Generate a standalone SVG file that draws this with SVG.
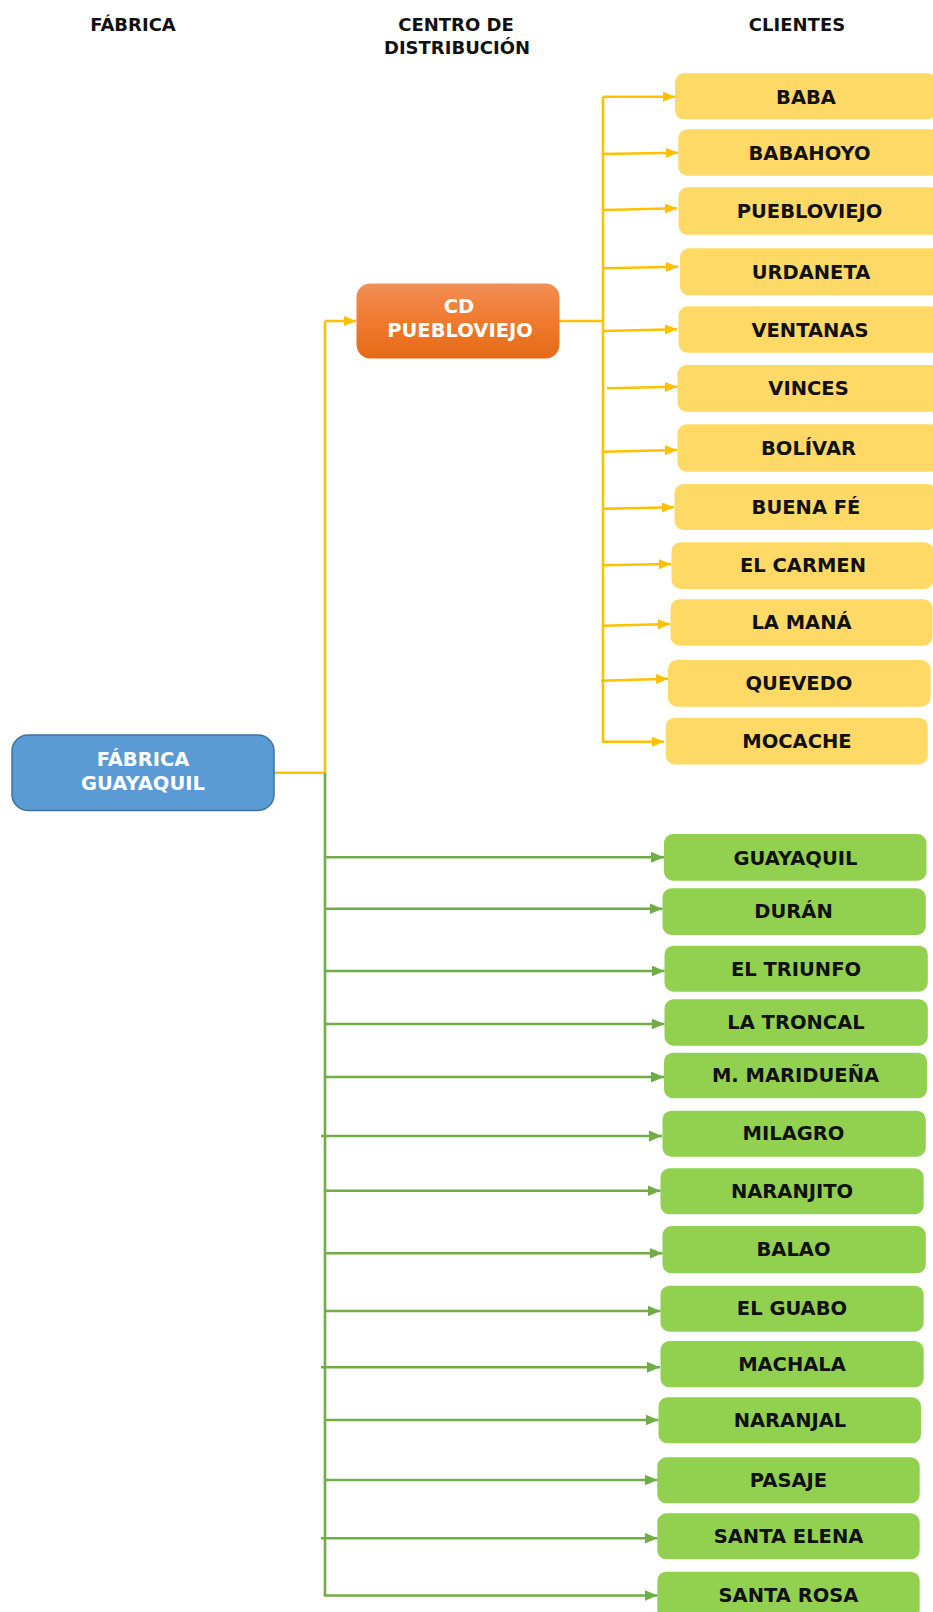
<svg xmlns="http://www.w3.org/2000/svg" width="933" height="1612" viewBox="0 0 933 1612">
  <defs>
    <linearGradient id="gradOrange" x1="0" y1="0" x2="0" y2="1">
      <stop offset="0" stop-color="#F28E56"/>
      <stop offset="0.5" stop-color="#F07A2E"/>
      <stop offset="1" stop-color="#E46A17"/>
    </linearGradient>
    <marker id="arrowY" viewBox="0 0 12 10" refX="12" refY="5" markerWidth="12" markerHeight="10" markerUnits="userSpaceOnUse" orient="auto">
      <path d="M0,0 L12,5 L0,10 z" fill="#FFC000"/>
    </marker>
    <marker id="arrowG" viewBox="0 0 13 11" refX="13" refY="5.5" markerWidth="13" markerHeight="11" markerUnits="userSpaceOnUse" orient="auto">
      <path d="M0,0 L13,5.5 L0,11 z" fill="#70AD47"/>
    </marker>
  </defs>
  <style>
    text { font-family: "DejaVu Sans", "Liberation Sans", sans-serif; font-weight: bold; font-size: 19.5px; text-anchor: middle; }
    .hdr { fill: #111111; font-size: 18px; }
    .lbl { fill: #111111; }
    .wht { fill: #FFFFFF; }
    .cli-y rect { fill: #FFD966; }
    .cli-g rect { fill: #92D050; }
    .ly { fill: none; stroke: #FFC000; stroke-width: 2.6; }
    .lg { fill: none; stroke: #70AD47; stroke-width: 2.6; }
    .ay { marker-end: url(#arrowY); }
    .ag { marker-end: url(#arrowG); }
  </style>

  <!-- column headings -->
  <g id="headers">
    <text class="hdr" x="133" y="30.5">FÁBRICA</text>
    <text class="hdr" x="456" y="30.5">CENTRO DE</text>
    <text class="hdr" x="457" y="53.5">DISTRIBUCIÓN</text>
    <text class="hdr" x="797" y="30.5">CLIENTES</text>
  </g>

  <!-- connectors -->
  <g id="connectors">
    <!-- factory to distribution centre -->
    <path class="ly" d="M274,772.7 H325 V321"/>
    <path class="ly ay" d="M325,321 H356"/>
    <!-- distribution centre to its clients -->
    <path class="ly" d="M559,321 H603"/>
    <path class="ly ay" d="M603,96.7 V741.7 H664"/>
    <path class="ly ay" d="M603,96.7 H675"/>
    <path class="ly ay" d="M603,154 L678,152.7"/>
    <path class="ly ay" d="M604,210 L677,208.3"/>
    <path class="ly ay" d="M604,268.3 L678,266.7"/>
    <path class="ly ay" d="M603,331 L677,329.3"/>
    <path class="ly ay" d="M607,388.3 L677,386.7"/>
    <path class="ly ay" d="M603,451.7 L677,450"/>
    <path class="ly ay" d="M603,508.7 L674,507.3"/>
    <path class="ly ay" d="M603,565.3 L671,564"/>
    <path class="ly ay" d="M603,625.7 L670,624"/>
    <path class="ly ay" d="M601,680.7 L668,678.7"/>

    <!-- factory direct deliveries -->
    <path class="lg" d="M325,773 V1595.5"/>
    <path class="lg ag" d="M325,857.3 H664"/>
    <path class="lg ag" d="M325,908.7 H662.5"/>
    <path class="lg ag" d="M325,971 H664.5"/>
    <path class="lg ag" d="M325,1024 H664.5"/>
    <path class="lg ag" d="M325,1077 H664"/>
    <path class="lg ag" d="M321,1136 H662"/>
    <path class="lg ag" d="M325,1190.7 H660.5"/>
    <path class="lg ag" d="M325,1253.3 H662.5"/>
    <path class="lg ag" d="M325,1311 H660.5"/>
    <path class="lg ag" d="M321,1367.3 H660"/>
    <path class="lg ag" d="M325,1420 H658.5"/>
    <path class="lg ag" d="M325,1480 H657.5"/>
    <path class="lg ag" d="M321,1538.3 H657.5"/>
    <path class="lg ag" d="M323.7,1595.5 H657.5"/>
  </g>

  <!-- factory -->
  <g id="fabrica-guayaquil">
    <rect x="12" y="735" width="262" height="75.5" rx="16" fill="#5B9BD5" stroke="#41719C" stroke-width="1.5"/>
    <text class="wht" x="143" y="765.5">FÁBRICA</text>
    <text class="wht" x="143" y="790">GUAYAQUIL</text>
  </g>

  <!-- distribution centre -->
  <g id="cd-puebloviejo">
    <rect x="356.5" y="283.5" width="203" height="75" rx="14" fill="url(#gradOrange)"/>
    <text class="wht" x="459" y="313">CD</text>
    <text class="wht" x="460" y="337">PUEBLOVIEJO</text>
  </g>

  <!-- clients served from the distribution centre -->
  <g id="cliente-baba" class="cli-y"><rect x="675" y="73.3" width="262" height="46" rx="9"/><text class="lbl" x="806" y="103.5">BABA</text></g>
  <g id="cliente-babahoyo" class="cli-y"><rect x="678.3" y="129.3" width="262" height="46.4" rx="9"/><text class="lbl" x="809.5" y="159.5">BABAHOYO</text></g>
  <g id="cliente-puebloviejo-c" class="cli-y"><rect x="678.5" y="187.3" width="262" height="47.5" rx="9"/><text class="lbl" x="809.5" y="217.8">PUEBLOVIEJO</text></g>
  <g id="cliente-urdaneta" class="cli-y"><rect x="680" y="248.3" width="262" height="47" rx="9"/><text class="lbl" x="811" y="278.5">URDANETA</text></g>
  <g id="cliente-ventanas" class="cli-y"><rect x="678.5" y="306.3" width="262" height="46.4" rx="9"/><text class="lbl" x="810" y="336.5">VENTANAS</text></g>
  <g id="cliente-vinces" class="cli-y"><rect x="677.5" y="365" width="262" height="46.7" rx="9"/><text class="lbl" x="808.5" y="395.2">VINCES</text></g>
  <g id="cliente-bolivar" class="cli-y"><rect x="677.5" y="424.3" width="262" height="47.4" rx="9"/><text class="lbl" x="808.5" y="454.8">BOLÍVAR</text></g>
  <g id="cliente-buena-fe" class="cli-y"><rect x="674.5" y="484" width="262" height="46" rx="9"/><text class="lbl" x="806" y="513.8">BUENA FÉ</text></g>
  <g id="cliente-el-carmen" class="cli-y"><rect x="671.5" y="542.3" width="262" height="46.7" rx="9"/><text class="lbl" x="803" y="572.3">EL CARMEN</text></g>
  <g id="cliente-la-mana" class="cli-y"><rect x="670.5" y="599.3" width="262" height="46.4" rx="9"/><text class="lbl" x="801.5" y="629.3">LA MANÁ</text></g>
  <g id="cliente-quevedo" class="cli-y"><rect x="668" y="660" width="262.5" height="46.7" rx="9"/><text class="lbl" x="799" y="690.3">QUEVEDO</text></g>
  <g id="cliente-mocache" class="cli-y"><rect x="665.8" y="717.7" width="262" height="46.7" rx="9"/><text class="lbl" x="797" y="747.8">MOCACHE</text></g>

  <!-- clients served directly from the factory -->
  <g id="cliente-guayaquil" class="cli-g"><rect x="664" y="834" width="262.5" height="46.7" rx="9"/><text class="lbl" x="795.5" y="864.5">GUAYAQUIL</text></g>
  <g id="cliente-duran" class="cli-g"><rect x="662.5" y="888.3" width="263.3" height="46.7" rx="9"/><text class="lbl" x="793.5" y="918.3">DURÁN</text></g>
  <g id="cliente-el-triunfo" class="cli-g"><rect x="664.5" y="945.7" width="263.3" height="46" rx="9"/><text class="lbl" x="796" y="975.8">EL TRIUNFO</text></g>
  <g id="cliente-la-troncal" class="cli-g"><rect x="664.5" y="999.3" width="263.3" height="46.4" rx="9"/><text class="lbl" x="796" y="1029.3">LA TRONCAL</text></g>
  <g id="cliente-m-mariduena" class="cli-g"><rect x="664" y="1052.7" width="263" height="45.6" rx="9"/><text class="lbl" x="795.5" y="1082.3">M. MARIDUEÑA</text></g>
  <g id="cliente-milagro" class="cli-g"><rect x="662.5" y="1110.7" width="263.3" height="46" rx="9"/><text class="lbl" x="793.5" y="1140.3">MILAGRO</text></g>
  <g id="cliente-naranjito" class="cli-g"><rect x="660.5" y="1168.3" width="263.2" height="46" rx="9"/><text class="lbl" x="792" y="1198.3">NARANJITO</text></g>
  <g id="cliente-balao" class="cli-g"><rect x="662.5" y="1226" width="263.3" height="47.3" rx="9"/><text class="lbl" x="793.5" y="1256.3">BALAO</text></g>
  <g id="cliente-el-guabo" class="cli-g"><rect x="660.5" y="1285.7" width="263.2" height="46" rx="9"/><text class="lbl" x="792" y="1315.3">EL GUABO</text></g>
  <g id="cliente-machala" class="cli-g"><rect x="660.5" y="1341" width="263.2" height="46.3" rx="9"/><text class="lbl" x="792" y="1371.3">MACHALA</text></g>
  <g id="cliente-naranjal" class="cli-g"><rect x="658.5" y="1397.3" width="262.5" height="46" rx="9"/><text class="lbl" x="790" y="1427.3">NARANJAL</text></g>
  <g id="cliente-pasaje" class="cli-g"><rect x="657.3" y="1457.3" width="262.4" height="46" rx="9"/><text class="lbl" x="788.5" y="1487.3">PASAJE</text></g>
  <g id="cliente-santa-elena" class="cli-g"><rect x="657.3" y="1513.3" width="262.4" height="46" rx="9"/><text class="lbl" x="788.5" y="1543.3">SANTA ELENA</text></g>
  <g id="cliente-santa-rosa" class="cli-g"><rect x="657.3" y="1571.7" width="262.4" height="46" rx="9"/><text class="lbl" x="788.5" y="1601.8">SANTA ROSA</text></g>
</svg>
